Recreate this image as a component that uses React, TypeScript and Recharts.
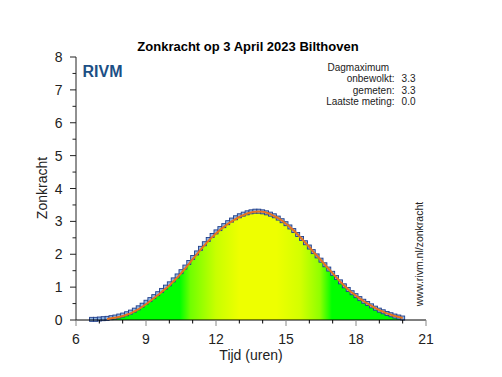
import { ComposedChart, Area, Line, Scatter, XAxis, YAxis } from "recharts"

// metingen per 10 minuten
const times = [
  "6:40", "6:50", "7:00", "7:10", "7:20", "7:30", "7:40", "7:50",
  "8:00", "8:10", "8:20", "8:30", "8:40", "8:50", "9:00", "9:10", "9:20", "9:30", "9:40", "9:50",
  "10:00", "10:10", "10:20", "10:30", "10:40", "10:50", "11:00", "11:10", "11:20", "11:30", "11:40", "11:50",
  "12:00", "12:10", "12:20", "12:30", "12:40", "12:50", "13:00", "13:10", "13:20", "13:30", "13:40", "13:50",
  "14:00", "14:10", "14:20", "14:30", "14:40", "14:50", "15:00", "15:10", "15:20", "15:30", "15:40", "15:50",
  "16:00", "16:10", "16:20", "16:30", "16:40", "16:50", "17:00", "17:10", "17:20", "17:30", "17:40", "17:50",
  "18:00", "18:10", "18:20", "18:30", "18:40", "18:50", "19:00", "19:10", "19:20", "19:30", "19:40", "19:50",
  "20:00",
]

const gemeten = [
  0.02, 0.02, 0.03, 0.04, 0.05, 0.07, 0.09, 0.12,
  0.15, 0.19, 0.24, 0.30, 0.37, 0.45, 0.54, 0.62, 0.71, 0.80, 0.90, 1.00,
  1.10, 1.22, 1.34, 1.47, 1.61, 1.75, 1.90, 2.04, 2.18, 2.32, 2.45, 2.57,
  2.68, 2.78, 2.87, 2.96, 3.04, 3.11, 3.17, 3.22, 3.26, 3.29, 3.31, 3.31,
  3.29, 3.26, 3.22, 3.17, 3.10, 3.02, 2.93, 2.83, 2.72, 2.60, 2.48, 2.35,
  2.22, 2.08, 1.95, 1.82, 1.68, 1.55, 1.42, 1.29, 1.16, 1.04, 0.93, 0.83,
  0.74, 0.65, 0.57, 0.50, 0.43, 0.36, 0.30, 0.25, 0.20, 0.16, 0.12, 0.09,
  0.06,
]

const onbewolkt = [
  null, null, null, null, 0.03, 0.05, 0.07, 0.09,
  0.12, 0.16, 0.20, 0.26, 0.32, 0.40, 0.48, 0.57, 0.66, 0.75, 0.85, 0.95,
  1.05, 1.17, 1.29, 1.42, 1.56, 1.70, 1.85, 1.99, 2.13, 2.27, 2.40, 2.52,
  2.63, 2.74, 2.83, 2.92, 3.00, 3.07, 3.14, 3.19, 3.24, 3.27, 3.29, 3.30,
  3.29, 3.26, 3.22, 3.16, 3.10, 3.02, 2.93, 2.83, 2.72, 2.60, 2.48, 2.35,
  2.22, 2.08, 1.95, 1.82, 1.68, 1.55, 1.42, 1.29, 1.16, 1.04, 0.93, 0.83,
  0.74, 0.65, 0.57, 0.50, 0.43, 0.36, 0.30, 0.25, 0.20, 0.16, 0.12, 0.09,
  0.06,
]

const xTicks = [6, 7, 8, 9, 10, 11, 12, 13, 14, 15, 16, 17, 18, 19, 20, 21]
const yTicks = [0, 0.5, 1, 1.5, 2, 2.5, 3, 3.5, 4, 4.5, 5, 5.5, 6, 6.5, 7, 7.5, 8]

const title = "Zonkracht op 3 April 2023 Bilthoven"
const infoRows = [
  { label: "Dagmaximum", value: "" },
  { label: "onbewolkt:", value: "3.3" },
  { label: "gemeten:", value: "3.3" },
  { label: "Laatste meting:", value: "0.0" },
]

const toHours = (s: string) => {
  const [h, m] = s.split(":").map(Number)
  return h + m / 60
}

const data = times.map((s, i) => ({ t: toHours(s), gemeten: gemeten[i], onbewolkt: onbewolkt[i] }))

const FONT = "'Liberation Sans', Arial, sans-serif"

function BottomTick(props: any) {
  const { x, y, payload } = props
  const major = payload.value % 3 === 0
  return (
    <g>
      <line x1={x} y1={y} x2={x} y2={y + (major ? 6 : 3.5)} stroke={major ? "#888" : "#000"} strokeWidth={1} />
      {major && (
        <text x={x} y={y + 24} textAnchor="middle" fontSize={14} fill="#222" fontFamily={FONT}>
          {payload.value}
        </text>
      )}
    </g>
  )
}

function LeftTick(props: any) {
  const { x, y, payload } = props
  const major = Number.isInteger(payload.value)
  return (
    <g>
      <line x1={x - (major ? 6 : 3.5)} y1={y} x2={x} y2={y} stroke="#222" strokeWidth={1} />
      {major && (
        <text x={x - 13.5} y={y + 5} textAnchor="end" fontSize={14} fill="#222" fontFamily={FONT}>
          {payload.value}
        </text>
      )}
    </g>
  )
}

function TopTick(props: any) {
  const { x, y } = props
  return <line x1={x} y1={y} x2={x} y2={y + 3} stroke="#888" strokeWidth={1} />
}

function Square(props: any) {
  const { cx, cy } = props
  if (cx == null || cy == null) return <g />
  return <rect x={cx - 2} y={cy - 2} width={4} height={4} fill="#8db3e2" stroke="#1f3d8a" strokeWidth={0.9} />
}

export default function App() {
  return (
    <div style={{ position: "absolute", left: 0, top: 0, width: 502, height: 377, background: "#fff", fontFamily: FONT }}>
      <ComposedChart width={502} height={377} data={data} margin={{ top: 57, right: 76, left: 36, bottom: 27 }}>
        <defs>
          <linearGradient id="zk" gradientUnits="userSpaceOnUse" x1={76} y1={0} x2={426} y2={0}>
            <stop offset="0.297" stopColor="#00ff00" />
            <stop offset="0.327" stopColor="#70ff00" />
            <stop offset="0.4" stopColor="#c8ff00" />
            <stop offset="0.467" stopColor="#eeff00" />
            <stop offset="0.573" stopColor="#eeff00" />
            <stop offset="0.64" stopColor="#d4ff00" />
            <stop offset="0.697" stopColor="#90ff00" />
            <stop offset="0.731" stopColor="#00ff00" />
          </linearGradient>
        </defs>
        <XAxis
          dataKey="t"
          type="number"
          domain={[6, 21]}
          ticks={xTicks}
          interval={0}
          tickSize={0}
          tickMargin={0}
          tickLine={false}
          tick={(p: any) => <BottomTick {...p} />}
          axisLine={{ stroke: "#000" }}
          height={30}
          allowDataOverflow
        />
        <XAxis
          xAxisId="top"
          orientation="top"
          type="number"
          domain={[6, 21]}
          ticks={xTicks}
          interval={0}
          tickSize={0}
          tickMargin={0}
          tickLine={false}
          tick={(p: any) => <TopTick {...p} />}
          axisLine={{ stroke: "#888" }}
          height={0}
        />
        <YAxis
          type="number"
          domain={[0, 8]}
          ticks={yTicks}
          interval={0}
          tickSize={0}
          tickMargin={0}
          tickLine={false}
          tick={(p: any) => <LeftTick {...p} />}
          axisLine={{ stroke: "#222" }}
          width={40}
        />
        <YAxis yAxisId="r" orientation="right" type="number" domain={[0, 8]} width={0} tick={false} tickLine={false} axisLine={{ stroke: "#888" }} />
        <Area type="monotone" dataKey="onbewolkt" fill="url(#zk)" fillOpacity={1} stroke="none" baseValue={0} isAnimationActive={false} />
        <Scatter dataKey="gemeten" shape={(p: any) => <Square {...p} />} isAnimationActive={false} zIndex={300} />
        <Line
          type="monotone"
          dataKey="onbewolkt"
          stroke="#e8741e"
          strokeWidth={2}
          dot={false}
          activeDot={false}
          isAnimationActive={false}
          zIndex={800}
        />
      </ComposedChart>
      <svg width={502} height={377} style={{ position: "absolute", left: 0, top: 0, pointerEvents: "none" }}>
        <text x={248} y={50.5} textAnchor="middle" fontSize={13} fontWeight="bold" fill="#000" fontFamily={FONT}>
          {title}
        </text>
        <text x={46.5} y={188} textAnchor="middle" fontSize={14} fill="#222" fontFamily={FONT} transform="rotate(-90 46.5 188)">
          Zonkracht
        </text>
        <text x={251} y={360} textAnchor="middle" fontSize={14} fill="#222" fontFamily={FONT}>
          Tijd (uren)
        </text>
        <text x={82.5} y={76.5} fontSize={16} fontWeight="bold" fill="#1c4f85" fontFamily={FONT}>
          RIVM
        </text>
        {infoRows.map((r, i) =>
          i === 0 ? (
            <text key={i} x={327.5} y={70.5} fontSize={10} fill="#222" fontFamily={FONT}>
              {r.label}
            </text>
          ) : (
            <g key={i}>
              <text x={394.5} y={70.5 + i * 11.5} textAnchor="end" fontSize={10} fill="#222" fontFamily={FONT}>
                {r.label}
              </text>
              <text x={415.5} y={70.5 + i * 11.5} textAnchor="end" fontSize={10} fill="#222" fontFamily={FONT}>
                {r.value}
              </text>
            </g>
          )
        )}
        <text x={423} y={254} textAnchor="middle" fontSize={10.5} fill="#222" fontFamily={FONT} transform="rotate(-90 423 254)">
          www.rivm.nl/zonkracht
        </text>
      </svg>
    </div>
  )
}
